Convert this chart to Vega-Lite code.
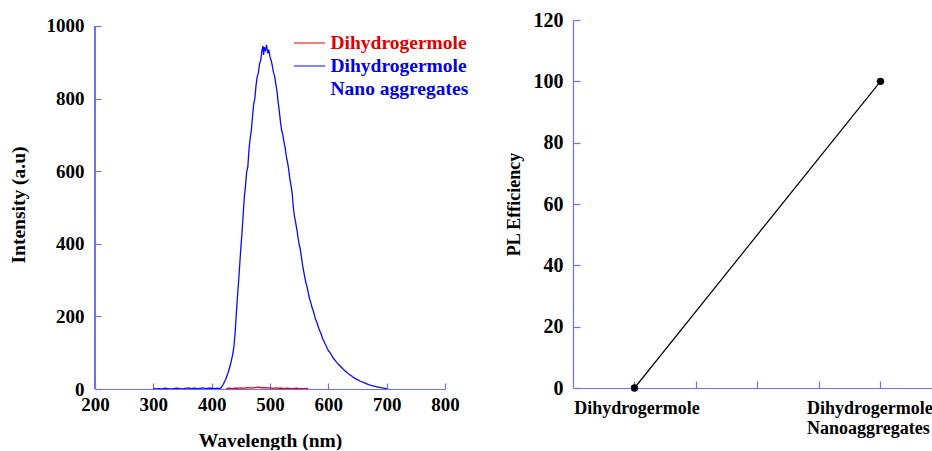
{
  "$schema": "https://vega.github.io/schema/vega-lite/v6.json",
  "background": "white",
  "padding": {"left": 8, "top": 10, "right": 0, "bottom": 0},
  "autosize": {"type": "pad"},
  "bounds": "flush",
  "spacing": 128,
  "config": {
    "font": "Liberation Serif",
    "view": {"stroke": null},
    "axis": {
      "grid": false,
      "domainColor": "#6e6eff",
      "tickColor": "#6e6eff",
      "domainWidth": 1.2,
      "tickWidth": 1.2,
      "labelFont": "Liberation Serif",
      "labelFontWeight": "bold",
      "labelColor": "black",
      "labelFlush": false,
      "titleFont": "Liberation Serif",
      "titleFontWeight": "bold",
      "titleColor": "black"
    }
  },
  "datasets": {
    "spectra": [
      {"w": 300, "i": 1, "s": "Nano"}, {"w": 305, "i": 0, "s": "Nano"}, {"w": 310, "i": 1, "s": "Nano"}, {"w": 315, "i": 0, "s": "Nano"},
      {"w": 320, "i": 2, "s": "Nano"}, {"w": 325, "i": 1, "s": "Nano"}, {"w": 330, "i": 0, "s": "Nano"}, {"w": 335, "i": 1, "s": "Nano"},
      {"w": 340, "i": 2, "s": "Nano"}, {"w": 345, "i": 1, "s": "Nano"}, {"w": 350, "i": 0, "s": "Nano"}, {"w": 355, "i": 2, "s": "Nano"},
      {"w": 360, "i": 3, "s": "Nano"}, {"w": 365, "i": 1, "s": "Nano"}, {"w": 370, "i": 2, "s": "Nano"}, {"w": 375, "i": 1, "s": "Nano"},
      {"w": 380, "i": 2, "s": "Nano"}, {"w": 385, "i": 3, "s": "Nano"}, {"w": 390, "i": 1, "s": "Nano"}, {"w": 395, "i": 2, "s": "Nano"},
      {"w": 400, "i": 2, "s": "Nano"}, {"w": 405, "i": 1, "s": "Nano"}, {"w": 410, "i": 2, "s": "Nano"}, {"w": 414, "i": 1, "s": "Nano"},
      {"w": 416, "i": 3, "s": "Nano"}, {"w": 418, "i": 8, "s": "Nano"}, {"w": 420, "i": 13, "s": "Nano"}, {"w": 422, "i": 20, "s": "Nano"},
      {"w": 424, "i": 26, "s": "Nano"}, {"w": 426, "i": 35, "s": "Nano"}, {"w": 428, "i": 44, "s": "Nano"}, {"w": 430, "i": 55, "s": "Nano"},
      {"w": 432, "i": 66, "s": "Nano"}, {"w": 434, "i": 80, "s": "Nano"}, {"w": 436, "i": 95, "s": "Nano"}, {"w": 438, "i": 115, "s": "Nano"},
      {"w": 440, "i": 150, "s": "Nano"}, {"w": 442, "i": 200, "s": "Nano"}, {"w": 444, "i": 250, "s": "Nano"}, {"w": 446, "i": 292, "s": "Nano"},
      {"w": 448, "i": 340, "s": "Nano"}, {"w": 450, "i": 388, "s": "Nano"}, {"w": 452, "i": 430, "s": "Nano"}, {"w": 454, "i": 480, "s": "Nano"},
      {"w": 456, "i": 528, "s": "Nano"}, {"w": 458, "i": 560, "s": "Nano"}, {"w": 460, "i": 598, "s": "Nano"}, {"w": 462, "i": 612, "s": "Nano"},
      {"w": 464, "i": 660, "s": "Nano"}, {"w": 466, "i": 690, "s": "Nano"}, {"w": 468, "i": 712, "s": "Nano"}, {"w": 470, "i": 750, "s": "Nano"},
      {"w": 472, "i": 785, "s": "Nano"}, {"w": 474, "i": 800, "s": "Nano"}, {"w": 476, "i": 835, "s": "Nano"}, {"w": 478, "i": 860, "s": "Nano"},
      {"w": 480, "i": 870, "s": "Nano"}, {"w": 482, "i": 895, "s": "Nano"}, {"w": 484, "i": 905, "s": "Nano"}, {"w": 486, "i": 930, "s": "Nano"},
      {"w": 488, "i": 945, "s": "Nano"}, {"w": 489, "i": 920, "s": "Nano"}, {"w": 490, "i": 942, "s": "Nano"}, {"w": 492, "i": 930, "s": "Nano"},
      {"w": 494, "i": 948, "s": "Nano"}, {"w": 496, "i": 925, "s": "Nano"}, {"w": 498, "i": 935, "s": "Nano"}, {"w": 500, "i": 915, "s": "Nano"},
      {"w": 502, "i": 905, "s": "Nano"}, {"w": 504, "i": 890, "s": "Nano"}, {"w": 506, "i": 872, "s": "Nano"}, {"w": 508, "i": 862, "s": "Nano"},
      {"w": 510, "i": 840, "s": "Nano"}, {"w": 512, "i": 820, "s": "Nano"}, {"w": 514, "i": 790, "s": "Nano"}, {"w": 516, "i": 765, "s": "Nano"},
      {"w": 518, "i": 735, "s": "Nano"}, {"w": 520, "i": 712, "s": "Nano"}, {"w": 522, "i": 700, "s": "Nano"}, {"w": 524, "i": 680, "s": "Nano"},
      {"w": 526, "i": 665, "s": "Nano"}, {"w": 528, "i": 640, "s": "Nano"}, {"w": 530, "i": 625, "s": "Nano"}, {"w": 532, "i": 605, "s": "Nano"},
      {"w": 534, "i": 580, "s": "Nano"}, {"w": 536, "i": 560, "s": "Nano"}, {"w": 538, "i": 540, "s": "Nano"}, {"w": 540, "i": 500, "s": "Nano"},
      {"w": 542, "i": 475, "s": "Nano"}, {"w": 544, "i": 458, "s": "Nano"}, {"w": 546, "i": 440, "s": "Nano"}, {"w": 548, "i": 418, "s": "Nano"},
      {"w": 550, "i": 398, "s": "Nano"}, {"w": 552, "i": 385, "s": "Nano"}, {"w": 554, "i": 362, "s": "Nano"}, {"w": 556, "i": 340, "s": "Nano"},
      {"w": 558, "i": 322, "s": "Nano"}, {"w": 560, "i": 305, "s": "Nano"}, {"w": 562, "i": 290, "s": "Nano"}, {"w": 564, "i": 278, "s": "Nano"},
      {"w": 566, "i": 262, "s": "Nano"}, {"w": 568, "i": 248, "s": "Nano"}, {"w": 570, "i": 238, "s": "Nano"}, {"w": 572, "i": 225, "s": "Nano"},
      {"w": 574, "i": 216, "s": "Nano"}, {"w": 576, "i": 205, "s": "Nano"}, {"w": 578, "i": 192, "s": "Nano"}, {"w": 580, "i": 185, "s": "Nano"},
      {"w": 582, "i": 175, "s": "Nano"}, {"w": 584, "i": 166, "s": "Nano"}, {"w": 586, "i": 158, "s": "Nano"}, {"w": 588, "i": 150, "s": "Nano"},
      {"w": 590, "i": 140, "s": "Nano"}, {"w": 592, "i": 133, "s": "Nano"}, {"w": 594, "i": 126, "s": "Nano"}, {"w": 596, "i": 120, "s": "Nano"},
      {"w": 598, "i": 112, "s": "Nano"}, {"w": 600, "i": 106, "s": "Nano"}, {"w": 603, "i": 100, "s": "Nano"}, {"w": 606, "i": 92, "s": "Nano"},
      {"w": 609, "i": 84, "s": "Nano"}, {"w": 612, "i": 78, "s": "Nano"}, {"w": 615, "i": 72, "s": "Nano"}, {"w": 618, "i": 67, "s": "Nano"},
      {"w": 621, "i": 62, "s": "Nano"}, {"w": 624, "i": 57, "s": "Nano"}, {"w": 627, "i": 52, "s": "Nano"}, {"w": 630, "i": 48, "s": "Nano"},
      {"w": 633, "i": 44, "s": "Nano"}, {"w": 636, "i": 40, "s": "Nano"}, {"w": 639, "i": 37, "s": "Nano"}, {"w": 642, "i": 33, "s": "Nano"},
      {"w": 645, "i": 30, "s": "Nano"}, {"w": 648, "i": 27, "s": "Nano"}, {"w": 651, "i": 25, "s": "Nano"}, {"w": 654, "i": 22, "s": "Nano"},
      {"w": 657, "i": 20, "s": "Nano"}, {"w": 660, "i": 18, "s": "Nano"}, {"w": 663, "i": 16, "s": "Nano"}, {"w": 666, "i": 14, "s": "Nano"},
      {"w": 669, "i": 12, "s": "Nano"}, {"w": 672, "i": 11, "s": "Nano"}, {"w": 675, "i": 9, "s": "Nano"}, {"w": 678, "i": 8, "s": "Nano"},
      {"w": 681, "i": 7, "s": "Nano"}, {"w": 684, "i": 5, "s": "Nano"}, {"w": 687, "i": 5, "s": "Nano"}, {"w": 690, "i": 4, "s": "Nano"},
      {"w": 693, "i": 3, "s": "Nano"}, {"w": 696, "i": 2, "s": "Nano"}, {"w": 699, "i": 1, "s": "Nano"}, {"w": 701, "i": 0, "s": "Nano"},
      {"w": 425, "i": 1, "s": "Mol"}, {"w": 430, "i": 2, "s": "Mol"}, {"w": 435, "i": 1, "s": "Mol"}, {"w": 440, "i": 2, "s": "Mol"},
      {"w": 445, "i": 2, "s": "Mol"}, {"w": 450, "i": 3, "s": "Mol"}, {"w": 455, "i": 2, "s": "Mol"}, {"w": 460, "i": 4, "s": "Mol"},
      {"w": 465, "i": 3, "s": "Mol"}, {"w": 470, "i": 3, "s": "Mol"}, {"w": 475, "i": 4, "s": "Mol"}, {"w": 480, "i": 5, "s": "Mol"},
      {"w": 485, "i": 3, "s": "Mol"}, {"w": 490, "i": 4, "s": "Mol"}, {"w": 495, "i": 3, "s": "Mol"}, {"w": 500, "i": 3, "s": "Mol"},
      {"w": 505, "i": 2, "s": "Mol"}, {"w": 510, "i": 3, "s": "Mol"}, {"w": 515, "i": 2, "s": "Mol"}, {"w": 520, "i": 2, "s": "Mol"},
      {"w": 525, "i": 1, "s": "Mol"}, {"w": 530, "i": 2, "s": "Mol"}, {"w": 535, "i": 1, "s": "Mol"}, {"w": 540, "i": 1, "s": "Mol"},
      {"w": 545, "i": 2, "s": "Mol"}, {"w": 550, "i": 1, "s": "Mol"}, {"w": 555, "i": 1, "s": "Mol"}, {"w": 560, "i": 1, "s": "Mol"},
      {"w": 565, "i": 2, "s": "Mol"}
    ],
    "efficiency": [
      {"idx": 1, "eff": 0, "sample": "Dihydrogermole"},
      {"idx": 5, "eff": 100, "sample": "Dihydrogermole Nanoaggregates"}
    ]
  },
  "hconcat": [
    {
      "width": 350,
      "height": 369,
      "data": {"name": "spectra"},
      "layer": [
        {
          "mark": {"type": "line", "strokeWidth": 1.3, "clip": true},
          "encoding": {
            "x": {
              "field": "w", "type": "quantitative",
              "scale": {"domain": [200, 800], "nice": false},
              "axis": {
                "values": [200, 300, 400, 500, 600, 700, 800],
                "tickSize": -6,
                "labelPadding": 12,
                "labelFontSize": 19,
                "title": "Wavelength (nm)",
                "titleFontSize": 19.5,
                "titlePadding": 17
              }
            },
            "y": {
              "field": "i", "type": "quantitative",
              "scale": {"domain": [0, 1016.5], "nice": false},
              "axis": {
                "values": [0, 200, 400, 600, 800, 1000],
                "format": "d",
                "domain": false,
                "tickSize": -6,
                "labelPadding": 17,
                "labelFontSize": 19,
                "title": "Intensity (a.u)",
                "titleFontSize": 19.5,
                "titlePadding": 18
              }
            },
            "color": {
              "field": "s", "type": "nominal",
              "scale": {"domain": ["Mol", "Nano", "NanoLine2"], "range": ["#e00000", "#0a0aff", "rgba(255,255,255,0)"]},
              "legend": {
                "orient": "none",
                "legendX": 203.5,
                "legendY": 12,
                "padding": 0,
                "title": null,
                "symbolType": "M -1.56 0 H 1.56",
                "symbolSize": 400,
                "symbolStrokeWidth": 1.2,
                "symbolFillColor": "transparent",
                "symbolStrokeColor": {"expr": "datum.value == 'Mol' ? '#e00000' : datum.value == 'Nano' ? '#0000ee' : 'rgba(255,255,255,0)'"},
                "labelOffset": 10,
                "labelFont": "Liberation Serif",
                "labelFontWeight": "bold",
                "labelFontSize": 19.5,
                "labelLimit": 300,
                "rowPadding": 2,
                "labelExpr": "datum.value == 'NanoLine2' ? 'Nano aggregates' : 'Dihydrogermole'",
                "labelColor": {"expr": "datum.value == 'Mol' ? '#e00000' : '#0000ee'"}
              }
            },
            "order": {"field": "w", "type": "quantitative"}
          }
        },
        {
          "mark": {"type": "rule", "color": "#6e6eff", "strokeWidth": 1.2},
          "encoding": {
            "x": {"datum": 200, "type": "quantitative"},
            "y": {"datum": 0, "type": "quantitative"},
            "y2": {"datum": 1000}
          }
        }
      ]
    },
    {
      "width": 360,
      "height": 368,
      "data": {"name": "efficiency"},
      "encoding": {
        "x": {
          "field": "idx", "type": "quantitative",
          "scale": {"domain": [0, 5.854], "nice": false},
          "axis": {
            "values": [1, 2, 3, 4, 5],
            "tickSize": -7,
            "labelPadding": 18,
            "labelFontSize": 18,
            "labelBaseline": "top",
            "labelLineHeight": 20,
            "labelAlign": {"condition": {"test": "datum.value == 5", "value": "left"}, "value": "center"},
            "labelOffset": {"condition": {"test": "datum.value == 5", "value": -74}, "value": 2},
            "labelExpr": "datum.value == 1 ? 'Dihydrogermole' : datum.value == 5 ? ['Dihydrogermole', 'Nanoaggregates'] : ''",
            "labelOverlap": false,
            "labelBound": false,
            "title": null
          }
        },
        "y": {
          "field": "eff", "type": "quantitative",
          "scale": {"domain": [0, 120], "nice": false},
          "axis": {
            "values": [0, 20, 40, 60, 80, 100, 120],
            "tickSize": -7,
            "labelPadding": 17,
            "labelFontSize": 20,
            "title": "PL Efficiency",
            "titleFontSize": 18,
            "titlePadding": 10
          }
        }
      },
      "layer": [
        {"mark": {"type": "line", "color": "black", "strokeWidth": 1.2}},
        {"mark": {"type": "point", "filled": true, "color": "black", "size": 55, "opacity": 1}}
      ]
    }
  ]
}
